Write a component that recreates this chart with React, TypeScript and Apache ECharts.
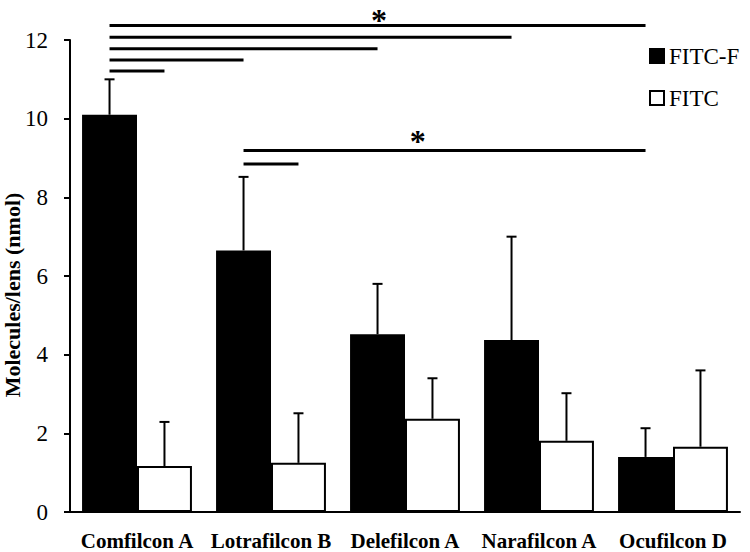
import React, { useEffect, useRef } from "react";
import * as echarts from "echarts";

const categories = ["Comfilcon A", "Lotrafilcon B", "Delefilcon A", "Narafilcon A", "Ocufilcon D"];
const fitcF = [10.1, 6.65, 4.52, 4.37, 1.4];
const fitcFUpper = [11.0, 8.52, 5.8, 7.0, 2.13];
const fitcVals = [1.17, 1.25, 2.37, 1.81, 1.66];
const fitcUpper = [2.29, 2.51, 3.4, 3.02, 3.6];
const yTicks = [0, 2, 4, 6, 8, 10, 12];

// significance brackets: [fromCategory, fromSeries(0=FITC-F,1=FITC), toCategory, toSeries, level]
const brackets = [
  [0, 0, 4, 0, 12.37],
  [0, 0, 3, 0, 12.07],
  [0, 0, 2, 0, 11.78],
  [0, 0, 1, 0, 11.49],
  [0, 0, 0, 1, 11.21],
  [1, 0, 4, 0, 9.19],
  [1, 0, 1, 1, 8.85],
];
// asterisks: [category index, shift within band, level]
const stars = [
  [2, -0.194, 12.51],
  [2, 0.095, 9.42],
];

const FONT = "'Liberation Serif', 'Times New Roman', serif";
const CAT_GAP = 0.18;

export default function App() {
  const ref = useRef<HTMLDivElement>(null);
  useEffect(() => {
    if (!ref.current) return;
    document.body.style.margin = "0";
    const chart = echarts.init(ref.current, undefined, { renderer: "svg" });
    const offsetFrac = (1 - CAT_GAP) / 4;

    const errData = [
      ...fitcF.map((v, i) => [i, v, fitcFUpper[i], -1]),
      ...fitcVals.map((v, i) => [i, v, fitcUpper[i], 1]),
    ];

    chart.setOption({
      animation: false,
      grid: { left: 70, right: 10, top: 40, bottom: 40, containLabel: false },
      legend: {
        data: ["FITC-F", "FITC"],
        orient: "vertical",
        left: 649,
        top: 44,
        padding: 0,
        itemWidth: 14,
        itemHeight: 14,
        itemGap: 18,
        icon: "rect",
        textStyle: { fontFamily: FONT, fontSize: 23, color: "#000", lineHeight: 24 },
      },
      xAxis: {
        type: "category",
        data: categories,
        axisLine: { show: true, lineStyle: { color: "#000", width: 2 } },
        axisTick: { show: false },
        axisLabel: { fontFamily: FONT, fontWeight: "bold", fontSize: 21, color: "#000", margin: 18, interval: 0 },
        splitLine: { show: false },
      },
      yAxis: {
        type: "value",
        min: yTicks[0],
        max: yTicks[yTicks.length - 1],
        interval: 2,
        axisLine: { show: true, lineStyle: { color: "#000", width: 2 } },
        axisTick: { show: true, length: 6, lineStyle: { color: "#000", width: 2 } },
        axisLabel: { fontFamily: FONT, fontSize: 23, color: "#000", margin: 22 },
        splitLine: { show: false },
      },
      graphic: [
        {
          type: "text",
          x: 12,
          y: 295,
          rotation: Math.PI / 2,
          style: {
            text: "Molecules/lens (nmol)",
            font: `bold 22px ${FONT}`,
            fill: "#000",
            textAlign: "center",
            textVerticalAlign: "middle",
          },
        },
      ],
      series: [
        {
          name: "FITC-F",
          type: "bar",
          data: fitcF,
          barGap: "0%",
          barCategoryGap: `${CAT_GAP * 100}%`,
          itemStyle: { color: "#000", borderColor: "#000", borderWidth: 2 },
          z: 2,
        },
        {
          name: "FITC",
          type: "bar",
          data: fitcVals,
          itemStyle: { color: "#fff", borderColor: "#000", borderWidth: 2 },
          z: 2,
        },
        {
          type: "custom",
          z: 3,
          data: errData,
          renderItem: (params: any, api: any) => {
            const cat = api.value(0);
            const band = api.size([1, 0])[0];
            const off = api.value(3) * band * offsetFrac;
            const p1 = api.coord([cat, api.value(1)]);
            const p2 = api.coord([cat, api.value(2)]);
            const x = p1[0] + off;
            const st = { stroke: "#000", lineWidth: 2 };
            return {
              type: "group",
              children: [
                { type: "line", shape: { x1: x, y1: p1[1], x2: x, y2: p2[1] }, style: st },
                { type: "line", shape: { x1: x - 5, y1: p2[1], x2: x + 5, y2: p2[1] }, style: st },
              ],
            };
          },
        },
        {
          type: "custom",
          z: 4,
          data: brackets,
          renderItem: (params: any, api: any) => {
            const band = api.size([1, 0])[0];
            const so = (s: number) => (s === 0 ? -1 : 1) * band * offsetFrac;
            const a = api.coord([api.value(0), api.value(4)]);
            const b = api.coord([api.value(2), api.value(4)]);
            return {
              type: "line",
              shape: { x1: a[0] + so(api.value(1)), y1: a[1], x2: b[0] + so(api.value(3)), y2: b[1] },
              style: { stroke: "#000", lineWidth: 3 },
            };
          },
        },
        {
          type: "custom",
          z: 4,
          data: stars,
          renderItem: (params: any, api: any) => {
            const band = api.size([1, 0])[0];
            const p = api.coord([api.value(0), api.value(2)]);
            return {
              type: "text",
              x: p[0] + api.value(1) * band,
              y: p[1],
              style: {
                text: "*",
                font: `bold 32px ${FONT}`,
                fill: "#000",
                textAlign: "center",
                textVerticalAlign: "middle",
              },
            };
          },
        },
      ],
    });
    return () => chart.dispose();
  }, []);
  return <div ref={ref} style={{ width: 750, height: 552 }} />;
}
